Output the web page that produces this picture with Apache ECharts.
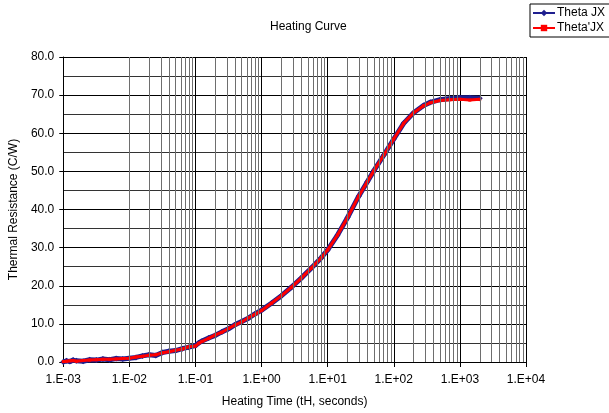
<!DOCTYPE html>
<html>
<head>
<meta charset="utf-8">
<script src="https://cdn.jsdelivr.net/npm/echarts@6/dist/echarts.min.js"></script>
<style>
html,body{margin:0;padding:0;background:#fff;}
#main{width:609px;height:413px;}
</style>
</head>
<body>
<div id="main"></div>
<script>
// heating time (s) and thermal resistance (C/W)
var timeSec = [0.001, 0.00112, 0.00126, 0.00141, 0.00158, 0.002, 0.00251, 0.00316, 0.00398, 0.00501,
	0.00631, 0.00794, 0.01, 0.0126, 0.0158, 0.02, 0.0251, 0.0316, 0.0398, 0.0501,
	0.0631, 0.0794, 0.1, 0.112, 0.126, 0.158, 0.2, 0.251, 0.316, 0.398,
	0.501, 0.631, 0.794, 1.0, 1.41, 2.0, 2.82, 3.98, 5.62, 7.94,
	10.0, 14.1, 20.0, 29.5, 39.8, 50.1, 70.8, 100, 141, 200,
	282, 355, 501, 708, 1000, 1413, 1995];
var thetaJX = [0.0, 0.3, 0.1, 0.5, 0.3, 0.2, 0.6, 0.5, 0.8, 0.6,
	0.9, 0.8, 1.0, 1.2, 1.6, 1.9, 1.7, 2.5, 2.8, 3.0,
	3.5, 3.9, 4.3, 5.0, 5.5, 6.3, 7.0, 7.9, 8.7, 9.8,
	10.6, 11.5, 12.6, 13.6, 15.4, 17.4, 19.6, 22.0, 24.6, 27.3,
	29.4, 33.3, 37.9, 43.5, 47.3, 50.2, 54.3, 58.5, 62.6, 65.4,
	67.3, 68.1, 68.8, 69.1, 69.3, 69.3, 69.2];
var thetaPJX = [0.1, 0.2, 0.3, 0.4, 0.2, 0.4, 0.5, 0.6, 0.7, 0.7,
	0.8, 0.9, 1.0, 1.3, 1.5, 1.8, 1.9, 2.4, 2.7, 3.1,
	3.4, 4.0, 4.2, 4.9, 5.4, 6.2, 7.1, 7.8, 8.8, 9.7,
	10.5, 11.6, 12.5, 13.5, 15.4, 17.4, 19.6, 22.0, 24.6, 27.3,
	29.4, 33.3, 37.9, 43.5, 47.3, 50.2, 54.3, 58.5, 62.6, 65.4,
	67.2, 68.0, 68.6, 68.8, 68.9, 68.7, 68.9];

function pairs(xs, ys){
	var out = [];
	for(var i=0;i<xs.length;i++){
		out.push([xs[i], ys[i]]);
	}
	return out;
}
function expLabel(v){
	var e = Math.round(Math.log(v)/Math.LN10);
	var a = Math.abs(e);
	return '1.E' + (e<0?'-':'+') + (a<10?'0'+a:a);
}
// minor vertical grid lines at 2..9 of each decade
var minorLines = [];
for(var d=-3; d<4; d++){
	for(var k=2; k<10; k++){
		minorLines.push({xAxis: k*Math.pow(10,d)});
	}
}

var chart = echarts.init(document.getElementById('main'));
var font = 'Liberation Sans, Arial, sans-serif';
var option = {
	animation: false,
	title: {
		text: 'Heating Curve',
		left: 265,
		top: 16,
		textStyle: {fontFamily: font, fontSize: 12, fontWeight: 'normal', color: '#000'}
	},
	legend: {
		orient: 'vertical',
		left: 530,
		top: 4,
		padding: [3, 8, 3, 2],
		itemGap: 3,
		itemWidth: 22,
		itemHeight: 8,
		borderColor: '#000',
		borderWidth: 1,
		textStyle: {fontFamily: font, fontSize: 12, color: '#000', padding: [0,0,0,-3]},
		data: ['Theta JX', "Theta'JX"]
	},
	grid: {left: 60, right: 83, top: 57, bottom: 50},
	xAxis: {
		type: 'log',
		logBase: 10,
		min: 0.001,
		max: 10000,
		splitNumber: 7,
		name: 'Heating Time (tH, seconds)',
		nameLocation: 'middle',
		nameGap: 34,
		nameTextStyle: {fontFamily: font, fontSize: 12, color: '#000'},
		axisLine: {lineStyle: {color: '#000', width: 1}},
		axisTick: {show: true, length: 5, lineStyle: {color: '#000'}},
		axisLabel: {fontFamily: font, fontSize: 12, color: '#000', margin: 12, formatter: expLabel},
		splitLine: {show: true, lineStyle: {color: '#000', width: 1}}
	},
	yAxis: {
		type: 'value',
		min: 0,
		max: 80,
		interval: 10,
		name: 'Thermal Resistance (C/W)',
		nameLocation: 'middle',
		nameGap: 41,
		nameTextStyle: {fontFamily: font, fontSize: 12, color: '#000'},
		axisLine: {show: true, lineStyle: {color: '#000', width: 1}},
		axisTick: {show: true, length: 4, lineStyle: {color: '#000'}},
		axisLabel: {fontFamily: font, fontSize: 12, color: '#000', margin: 9,
			formatter: function(v){ return v.toFixed(1); }},
		splitLine: {show: true, lineStyle: {color: '#000', width: 1}},
		minorTick: {show: false, splitNumber: 2},
		minorSplitLine: {show: true, lineStyle: {color: '#333', width: 1}}
	},
	series: [
		{
			name: 'grid',
			type: 'line',
			data: [[0.001, 0]],
			symbol: 'none',
			lineStyle: {opacity: 0},
			z: 1,
			silent: true,
			markLine: {
				silent: true,
				symbol: 'none',
				label: {show: false},
				lineStyle: {color: '#6e6e6e', width: 1, type: 'solid'},
				data: minorLines
			}
		},
		{
			name: 'Theta JX',
			type: 'line',
			data: pairs(timeSec, thetaJX),
			symbol: 'diamond',
			symbolSize: 6,
			showAllSymbol: true,
			itemStyle: {color: '#1f1f8f'},
			lineStyle: {color: '#1f1f8f', width: 5},
			z: 3
		},
		{
			name: "Theta'JX",
			type: 'line',
			data: pairs(timeSec, thetaPJX),
			symbol: 'rect',
			symbolSize: 3,
			showAllSymbol: true,
			itemStyle: {color: '#ff0000'},
			lineStyle: {color: '#ff0000', width: 3},
			z: 4
		}
	]
};
chart.setOption(option);
</script>
</body>
</html>
